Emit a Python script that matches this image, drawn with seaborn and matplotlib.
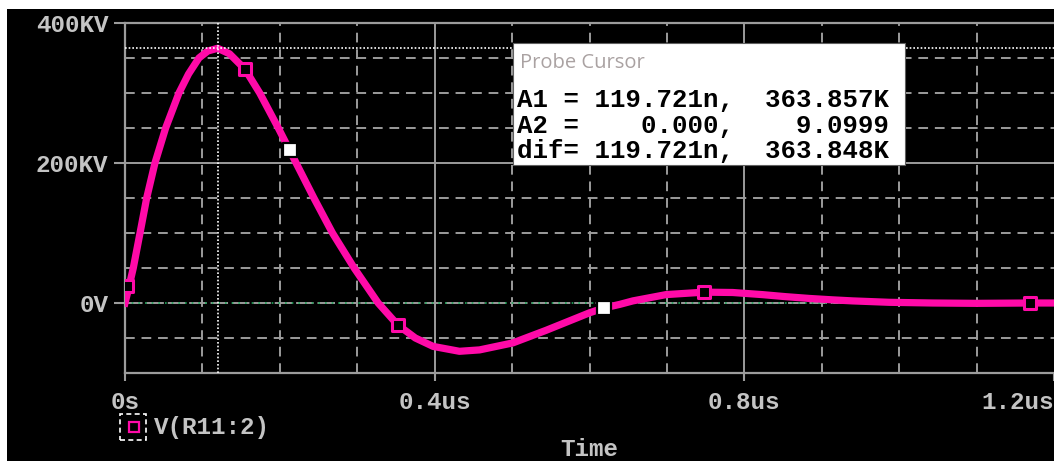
import matplotlib
matplotlib.use('Agg')
import matplotlib.pyplot as plt
from matplotlib.patches import Rectangle
from matplotlib.lines import Line2D
import seaborn as sns

# V(R11:2) waveform (time in us, voltage in KV)
time_us = [0.0, 0.0032, 0.0107, 0.0194, 0.028, 0.0387, 0.0525, 0.0697, 0.082,
           0.0955, 0.107, 0.1197, 0.135, 0.155, 0.174, 0.198, 0.221, 0.244,
           0.268, 0.296, 0.327, 0.352, 0.375, 0.398, 0.432, 0.458,
           0.501, 0.544, 0.600, 0.619, 0.639, 0.656, 0.699, 0.748, 0.785,
           0.823, 0.854, 0.884, 0.914, 0.940, 0.987, 1.043, 1.100, 1.169, 1.210]
volt_kv = [0, 14, 50, 100, 150, 200, 250, 300, 327,
           350, 360, 363.857, 356, 334, 300, 250, 200, 150,
           100, 50, 0, -31, -50, -62, -69, -67,
           -57, -39, -14, -7, -2, 3, 12, 15.5, 15,
           12, 9, 6.5, 4.5, 3, 1, 0, -0.5, 0, 0]

# symbol markers along the trace
marker_t = [0.0032, 0.155, 0.352, 0.748, 1.169]
marker_v = [24, 334, -31, 15.5, 0]
white_t = [0.213, 0.619]
white_v = [218, -7]

# probe cursors
a1_t, a1_v = 0.119721, 363.857
a2_t, a2_v = 0.0, 0.0090999
cursor_lines = ['A1 = 119.721n,  363.857K',
                'A2 =    0.000,    9.0999',
                'dif= 119.721n,  363.848K']

x_ticks = [0.0, 0.4, 0.8, 1.2]
x_labels = ['0s', '0.4us', '0.8us', '1.2us']
y_ticks = [0, 200, 400]
y_labels = ['0V', '200KV', '400KV']
x_minor = [0.1, 0.2, 0.3, 0.5, 0.6, 0.7, 0.9, 1.0, 1.1]
y_minor = [-50, 50, 100, 150, 250, 300, 350]

trace = '#ff0aa8'
grid_c = '#9c9c9c'
text_c = '#c4c4c4'
mono = 'Liberation Mono'
fs = 17.5

W, H = 1054, 461
fig = plt.figure(figsize=(W / 100, H / 100), dpi=100, facecolor='white')
fig.patches.append(Rectangle((7 / W, 0), 1 - 7 / W, (H - 9) / H, transform=fig.transFigure,
                             facecolor='black', edgecolor='none', zorder=-10))

ax = fig.add_axes([125 / W, 88 / H, 929 / W, 350 / H])
ax.set_facecolor('black')

# grid
for t in x_minor:
    ax.axvline(t, color=grid_c, lw=1.4, ls=(0, (5, 3.5)), zorder=1)
for t in x_ticks[1:3]:
    ax.axvline(t, color=grid_c, lw=1.4, zorder=1)
for v in y_minor:
    ax.axhline(v, color=grid_c, lw=1.4, ls=(0, (5, 3.5)), zorder=1)
ax.axhline(200, color=grid_c, lw=1.4, zorder=1)
ax.axhline(0, color=grid_c, lw=1.4, ls=(0, (9, 2)), zorder=1)

# second cursor crosshair (green, mostly hidden)
ax.axhline(a2_v, color='#1fa85a', lw=1.2, ls=(0, (1, 3)), zorder=1.5)

sns.lineplot(x=time_us, y=volt_kv, ax=ax, color=trace, lw=5.2, sort=False, zorder=3)
sns.scatterplot(x=marker_t, y=marker_v, ax=ax, marker='s', s=85, facecolor='black',
                edgecolor=trace, linewidth=2.2, zorder=4)
sns.scatterplot(x=white_t, y=white_v, ax=ax, marker='s', s=105, facecolor='white',
                edgecolor='black', linewidth=1.6, zorder=4)

# first cursor crosshair
ax.axvline(a1_t, color='white', lw=1.2, ls=(0, (1, 1.2)), zorder=5)
ax.axhline(a1_v, color='white', lw=1.2, ls=(0, (1, 1.2)), zorder=5)

ax.set_xlim(0, 1.2)
ax.set_ylim(-100, 400)
ax.set_xticks(x_ticks)
ax.set_xticklabels(x_labels)
ax.set_yticks(y_ticks)
ax.set_yticklabels(y_labels)
ax.get_xticklabels()[-1].set_horizontalalignment('right')
for lab in ax.get_xticklabels() + ax.get_yticklabels():
    lab.set_fontfamily(mono)
    lab.set_fontweight('bold')
    lab.set_fontsize(fs)
ax.tick_params(axis='x', colors=grid_c, labelcolor=text_c, length=6, width=1.5, pad=7)
ax.tick_params(axis='y', colors=grid_c, labelcolor=text_c, length=8, width=1.5, pad=4)
for side in ['left', 'bottom', 'top']:
    ax.spines[side].set_color(grid_c)
    ax.spines[side].set_linewidth(1.6)
ax.spines['right'].set_visible(False)
ax.set_xlabel('Time', family=mono, weight='bold', fontsize=fs, color=text_c, labelpad=17)
ax.set_ylabel('')

# probe cursor window
fig.patches.append(Rectangle((513 / W, 1 - 165 / H), 392 / W, 122 / H, transform=fig.transFigure,
                             facecolor='white', edgecolor='#606060', lw=0.8, zorder=20))
fig.text(520 / W, 1 - 63 / H, 'Probe Cursor', family='Open Sans', fontsize=14.5,
         color='#aaa2a2', va='center', zorder=21)
for i, line in enumerate(cursor_lines):
    fig.text(517 / W, 1 - (100 + 25.5 * i) / H, line, family=mono, weight='bold',
             fontsize=18.5, color='black', va='center', zorder=21)

# legend entry
fig.patches.append(Rectangle((120 / W, 21 / H), 26 / W, 26 / H, transform=fig.transFigure,
                             facecolor='none', edgecolor='white', lw=1.2, ls=(0, (3, 2))))
fig.lines.append(Line2D([134 / W], [1 - 427 / H], transform=fig.transFigure, marker='s',
                        ms=7.5, mfc='none', mec=trace, mew=1.6, ls='none'))
fig.text(154 / W, 1 - 427 / H, 'V(R11:2)', family=mono, weight='bold', fontsize=fs,
         color=text_c, va='center')

fig.savefig('out.png', dpi=100, facecolor=fig.get_facecolor())
